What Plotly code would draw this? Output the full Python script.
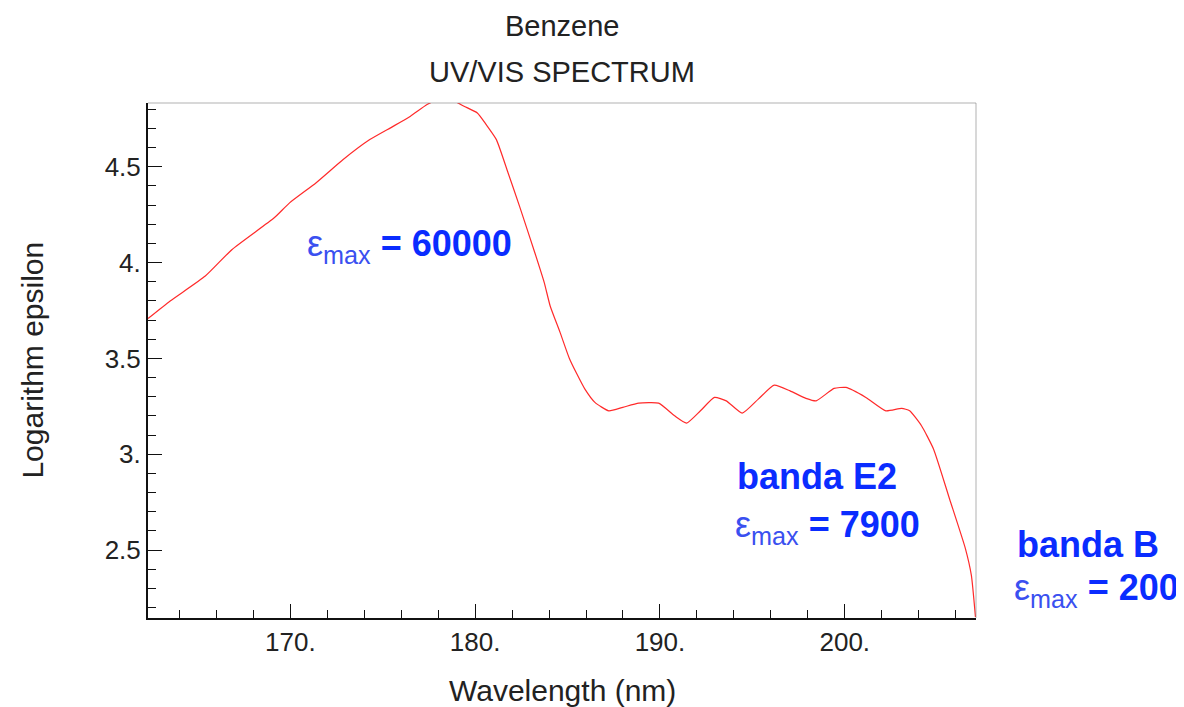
import plotly.graph_objects as go

# spectrum
wavelength = [162.3, 163.5, 165.4, 166.85, 169.13, 169.96, 171.4, 172.86, 174.3, 175.56,
              176.5, 177.4, 178.0, 178.7, 179.4, 180.12, 180.6, 181.15, 181.78, 182.4,
              183.23, 183.74, 184.06, 184.6, 185.1, 185.5, 185.94, 186.48, 187.23, 187.99,
              188.85, 189.93, 190.79, 191.44, 192.19, 192.95, 193.59, 194.45, 195.32, 196.18,
              197.04, 197.9, 198.45, 199.42, 200.06, 201.14, 202.22, 203.08, 203.51, 204.15,
              204.8, 205.67, 206.53, 206.85, 207.07]
log_epsilon = [3.708, 3.80, 3.930, 4.069, 4.234, 4.312, 4.417, 4.538, 4.642, 4.711,
               4.764, 4.825, 4.85, 4.85, 4.816, 4.781, 4.72, 4.642, 4.469, 4.295,
               4.052, 3.896, 3.774, 3.635, 3.50, 3.42, 3.340, 3.271, 3.227, 3.245,
               3.267, 3.267, 3.201, 3.163, 3.227, 3.297, 3.279, 3.215, 3.288, 3.361,
               3.331, 3.292, 3.279, 3.344, 3.349, 3.297, 3.227, 3.240, 3.227, 3.149,
               3.028, 2.767, 2.507, 2.368, 2.151]

x_ticks = [170, 180, 190, 200]
x_ticklabels = ["170.", "180.", "190.", "200."]
y_ticks = [2.5, 3.0, 3.5, 4.0, 4.5]
y_ticklabels = ["2.5", "3.", "3.5", "4.", "4.5"]

FONT = "Liberation Sans, Arial, sans-serif"
BLUE = "#0a2cff"
EPS = "<span style='font-weight:normal;color:#3a50f0'>ε<sub>max</sub></span>"

fig = go.Figure()
fig.add_trace(go.Scatter(x=wavelength, y=log_epsilon, mode="lines",
                         line=dict(color="#ff2a2a", width=1.2, shape="spline", smoothing=0.5),
                         showlegend=False))

# band labels (paper coords so the ones right of the plot are not dropped)
labels = [
    (0.190, 0.723, EPS + " <b>= 60000</b>"),
    (0.709, 0.274, "<b>banda E2</b>"),
    (0.706, 0.177, EPS + " <b>= 7900</b>"),
    (1.047, 0.142, "<b>banda B</b>"),
    (1.044, 0.054, EPS + " <b>= 200</b>"),
]
for lx, ly, txt in labels:
    fig.add_annotation(x=lx, y=ly, xref="paper", yref="paper", text=txt, showarrow=False,
                       xanchor="left", yanchor="middle",
                       font=dict(family=FONT, size=36, color=BLUE))

# titles
titles = [
    (0.5, 1.150, "Benzene", 29, 0),
    (0.5, 1.060, "UV/VIS SPECTRUM", 29, 0),
    (0.5, -0.140, "Wavelength (nm)", 30, 0),
    (-0.140, 0.5, "Logarithm epsilon", 30, -90),
]
for tx, ty, txt, size, angle in titles:
    fig.add_annotation(x=tx, y=ty, xref="paper", yref="paper", text=txt, showarrow=False,
                       xanchor="center", yanchor="middle", textangle=angle,
                       font=dict(family=FONT, size=size, color="#222"))

# top and right frame in grey
fig.add_shape(type="line", xref="paper", yref="paper", x0=0, x1=1, y0=1, y1=1,
              line=dict(color="#808080", width=2))
fig.add_shape(type="line", xref="paper", yref="paper", x0=1, x1=1, y0=0, y1=1,
              line=dict(color="#808080", width=2))

fig.update_xaxes(range=[162.3, 207.1], showline=True, linecolor="#111", linewidth=2,
                 ticks="inside", ticklen=14, tickcolor="#111", tickwidth=1,
                 tickvals=x_ticks, ticktext=x_ticklabels, showgrid=False, zeroline=False,
                 tickfont=dict(family=FONT, size=26, color="#222"),
                 minor=dict(ticks="inside", dtick=2, tick0=0, ticklen=8, tickcolor="#111", showgrid=False))
fig.update_yaxes(range=[2.146, 4.833], showline=True, linecolor="#111", linewidth=2,
                 ticks="inside", ticklen=14, tickcolor="#111", tickwidth=1,
                 tickvals=y_ticks, ticktext=y_ticklabels, showgrid=False, zeroline=False,
                 tickfont=dict(family=FONT, size=26, color="#222"),
                 minor=dict(ticks="inside", dtick=0.1, tick0=0, ticklen=8, tickcolor="#111", showgrid=False))

# the page puts the figure 8px in from the corner, margins allow for that
fig.update_layout(width=1184, height=707, template="simple_white",
                  margin=dict(l=140, r=216, t=95, b=97),
                  plot_bgcolor="white", paper_bgcolor="white", showlegend=False)

fig.write_html("out.html")
